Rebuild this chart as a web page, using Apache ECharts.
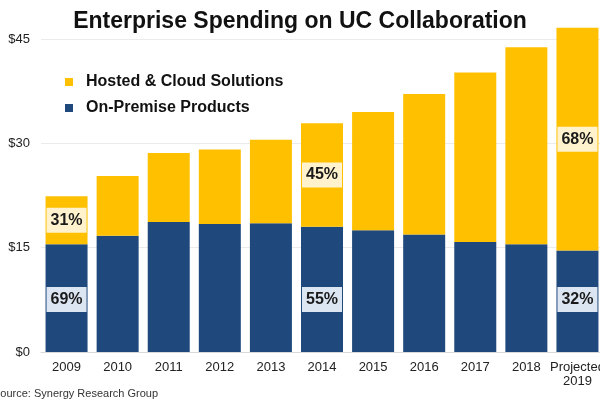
<!DOCTYPE html>
<html>
<head>
<meta charset="utf-8">
<script src="https://cdn.jsdelivr.net/npm/echarts@6/dist/echarts.min.js"></script>
<style>html,body{margin:0;padding:0;background:#fff}#c{width:600px;height:400px}</style>
</head>
<body>
<div id="c"></div>
<script>
const categories = ['2009','2010','2011','2012','2013','2014','2015','2016','2017','2018','Projected\n2019'];
const onPremise = [15.5, 16.7, 18.7, 18.4, 18.5, 18.0, 17.5, 16.9, 15.8, 15.5, 14.6];
const hosted = [6.9, 8.6, 9.9, 10.7, 12.0, 14.9, 17.0, 20.2, 24.4, 28.3, 32.0];
const onPremisePct = ['69%', null, null, null, null, '55%', null, null, null, null, '32%'];
const hostedPct = ['31%', null, null, null, null, '45%', null, null, null, null, '68%'];
const yTicks = [0, 15, 30, 45];

const FONT = '"Liberation Sans", Arial, sans-serif';
const chart = echarts.init(document.getElementById('c'));

function withLabels(values, labels, bg, pos, dist) {
  return values.map((v, i) => labels[i] ? {
    value: v,
    label: {
      show: true, position: pos, distance: dist, formatter: labels[i],
      fontFamily: FONT, fontSize: 16, fontWeight: 'bold', color: '#1a1a1a',
      backgroundColor: bg, padding: [5, 4, 4, 4], lineHeight: 16
    }
  } : v);
}

chart.setOption({
  animation: false,
  title: [{
    text: 'Enterprise Spending on UC Collaboration',
    left: 'center', top: 5,
    textStyle: { fontFamily: FONT, fontSize: 23, fontWeight: 'bold', color: '#111' }
  }, {
    text: 'Source: Synergy Research Group',
    left: -12, top: 383,
    textStyle: { fontFamily: FONT, fontSize: 11, fontWeight: 'normal', color: '#333' }
  }],
  legend: {
    data: ['Hosted & Cloud Solutions', 'On-Premise Products'],
    orient: 'vertical', left: 60, top: 69,
    itemWidth: 8, itemHeight: 8, itemGap: 10, icon: 'rect',
    textStyle: { fontFamily: FONT, fontSize: 16, fontWeight: 'bold', color: '#111', lineHeight: 16, padding: [0, 0, 0, 8] }
  },
  grid: { left: 41, top: 39, bottom: 48, right: -3, containLabel: false, outerBoundsMode: 'none' },
  xAxis: {
    type: 'category', data: categories,
    axisTick: { show: false },
    axisLine: { lineStyle: { color: '#d9d9d9', width: 1 } },
    axisLabel: { fontFamily: FONT, fontSize: 13, color: '#222', margin: 8, lineHeight: 14, interval: 0, hideOverlap: false }
  },
  yAxis: {
    type: 'value', min: yTicks[0], max: yTicks[yTicks.length - 1], interval: 15,
    axisLine: { show: false }, axisTick: { show: false },
    axisLabel: { fontFamily: FONT, fontSize: 13, color: '#222', margin: 11, formatter: v => '$' + v },
    splitLine: { lineStyle: { color: '#ebebeb', width: 1 } }
  },
  series: [{
    name: 'On-Premise Products', type: 'bar', stack: 't', clip: false,
    barWidth: 42,
    itemStyle: { color: '#1F497D' },
    data: withLabels(onPremise, onPremisePct, '#DCE6F2', 'insideBottom', 40)
  }, {
    name: 'Hosted & Cloud Solutions', type: 'bar', stack: 't', clip: false,
    barWidth: 42,
    itemStyle: { color: '#FFC000' },
    data: withLabels(hosted, hostedPct, '#FFF2CC', 'inside', 5)
  }]
});
</script>
</body>
</html>
